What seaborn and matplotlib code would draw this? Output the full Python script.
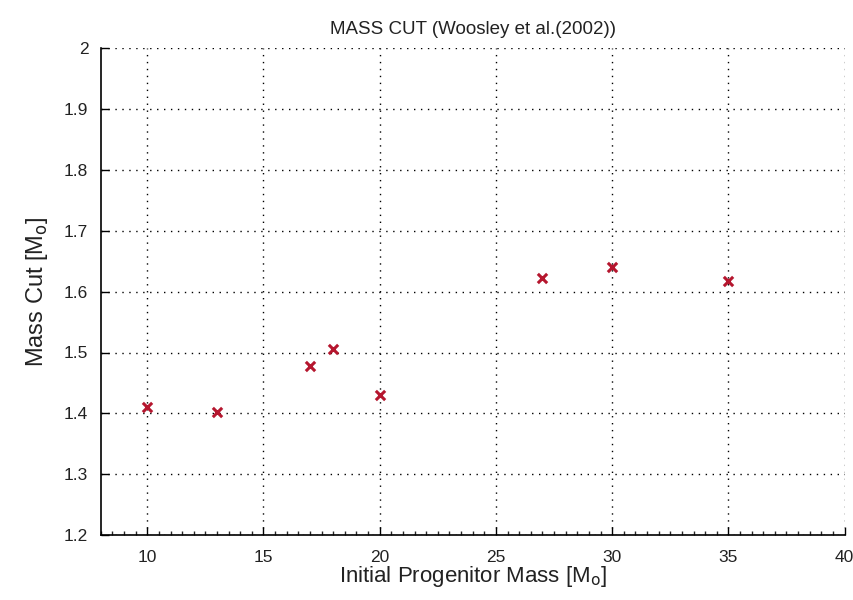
import matplotlib
matplotlib.use("Agg")
import matplotlib.pyplot as plt
import numpy as np
import pandas as pd
import seaborn as sns
from matplotlib.ticker import MultipleLocator

# progenitor masses and mass cuts
progenitor_mass = [10, 13, 17, 18, 20, 27, 30, 35]
mass_cut = [1.410, 1.403, 1.478, 1.505, 1.430, 1.623, 1.640, 1.617]

x_ticks = [10, 15, 20, 25, 30, 35, 40]
y_ticks = [1.2, 1.3, 1.4, 1.5, 1.6, 1.7, 1.8, 1.9, 2.0]
y_tick_labels = ['1.2', '1.3', '1.4', '1.5', '1.6', '1.7', '1.8', '1.9', '2']

df = pd.DataFrame({'mass': progenitor_mass, 'cut': mass_cut})

sns.set_style('white')
plt.rcParams['font.family'] = ['Liberation Sans', 'DejaVu Sans']

fig = plt.figure(figsize=(8.54, 6.0), dpi=100)
ax = fig.add_axes([0.118, 0.108, 0.871, 0.812])

sns.scatterplot(
    x='mass',
    y='cut',
    data=df,
    marker='x',
    color='#b5162e',
    s=45,
    linewidth=2.2,
    ax=ax,
    zorder=3
)

ax.set_xlim(8, 40)
ax.set_ylim(1.2, 2.0)
ax.set_xticks(x_ticks)
ax.set_yticks(y_ticks)
ax.set_yticklabels(y_tick_labels)
ax.xaxis.set_minor_locator(MultipleLocator(0.5))

ax.grid(True, which='major', linestyle=(0, (1, 4)), color='black', linewidth=1.0)

for side in ['top', 'right']:
    ax.spines[side].set_visible(False)
for side in ['left', 'bottom']:
    ax.spines[side].set_color('black')
    ax.spines[side].set_linewidth(1.2)

ax.tick_params(axis='both', which='major', direction='in', length=6,
               width=1.0, labelsize=12.5, colors='black', labelcolor='#222222',
               left=True, bottom=True)
ax.tick_params(axis='x', which='minor', direction='in', length=3,
               width=1.0, bottom=True)
ax.tick_params(axis='x', pad=11)
ax.tick_params(axis='y', pad=9)

ax.set_title('MASS CUT (Woosley et al.(2002))', fontsize=13.5, color='#222222', pad=10)
ax.set_xlabel('Initial Progenitor Mass [M$_{\\mathrm{o}}$]', fontsize=16,
              color='#222222', labelpad=-1)
ax.set_ylabel('Mass Cut [M$_{\\mathrm{o}}$]', fontsize=17, color='#222222', labelpad=10)

fig.savefig('out.png', dpi=100)
